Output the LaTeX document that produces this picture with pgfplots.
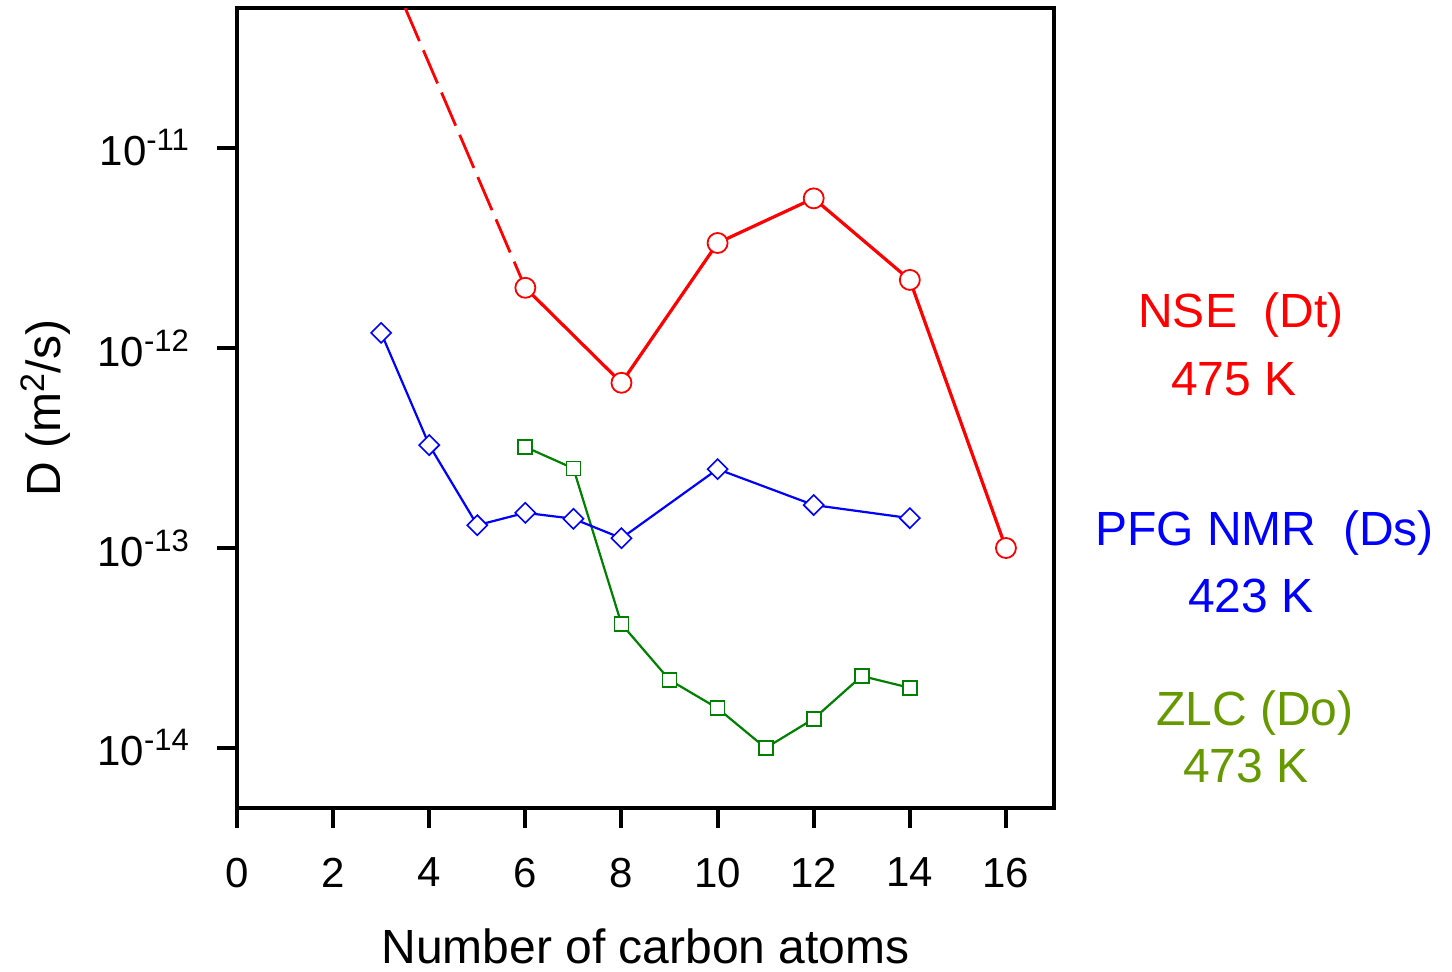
\documentclass[border=0pt]{standalone}
\usepackage{pgfplots}
\pgfplotsset{compat=1.18}
\usepackage{fontspec}
\setmainfont{Liberation Sans}
\definecolor{nsered}{RGB}{255,0,0}
\definecolor{pfgblue}{RGB}{0,0,255}
\definecolor{zlcgreen}{RGB}{0,128,0}
\definecolor{zlctext}{RGB}{102,153,0}
\newcommand{\lbl}{\fontsize{24}{28}\selectfont}
\newcommand{\tck}{\fontsize{21}{25}\selectfont}
\newcommand{\tsup}[1]{\raisebox{7.5pt}{\fontsize{15.5}{18}\selectfont #1}}
\begin{document}
\begin{tikzpicture}
\begin{axis}[
    scale only axis,
    width=408.5pt, height=400pt,
    xmin=0, xmax=17,
    ymode=log, ymin=5.01e-15, ymax=5.01e-11,
    xtick={0,2,...,16},
    ytick={1e-14,1e-13,1e-12,1e-11},
    yticklabels={10\tsup{-14},10\tsup{-13},10\tsup{-12},10\tsup{-11}},
    xminorticks=false, yminorticks=false,
    tick pos=left,
    tick align=outside,
    major tick length=10pt,
    tick style={line width=2pt, black},
    axis line style={line width=2pt},
    ticklabel style={font=\tck},
    xticklabel style={yshift=-11.5pt},
    yticklabel style={xshift=-10.5pt},
    /pgf/number format/assume math mode=true,
]
\addplot[zlcgreen, line width=1.1pt, mark=square*, mark size=3.5pt,
    mark options={solid, fill=white, line width=0.9pt}]
    coordinates {(6,3.2e-13) (7,2.5e-13) (8,4.17e-14) (9,2.19e-14) (10,1.58e-14)
                 (11,1.0e-14) (12,1.4e-14) (13,2.29e-14) (14,2.0e-14)};
\addplot[pfgblue, line width=1.1pt, mark=square*, mark size=3.55pt,
    mark options={solid, rotate=45, fill=white, line width=0.8pt}]
    coordinates {(3,1.19e-12) (4,3.27e-13) (5,1.3e-13) (6,1.5e-13) (7,1.4e-13)
                 (8,1.12e-13) (10,2.48e-13) (12,1.64e-13) (14,1.41e-13)};
\addplot[nsered, line width=1.4pt, dash pattern=on 18pt off 5pt]
    coordinates {(3.5,5.01e-11) (6,2.0e-12)};
\addplot[nsered, line width=1.6pt, mark=*, mark size=5pt,
    mark options={solid, fill=white, line width=0.9pt}]
    coordinates {(6,2.0e-12) (8,6.7e-13) (10,3.35e-12) (12,5.6e-12)
                 (14,2.19e-12) (16,1.0e-13)};
\coordinate (sw) at (rel axis cs:0,0);
\end{axis}
\node[anchor=base, font=\lbl] at ([shift={(204.25pt,-77.5pt)}]sw) {Number of carbon atoms};
\node[anchor=base, rotate=90, font=\lbl] at ([shift={(-88pt,200pt)}]sw) {D (m\raisebox{8pt}{\fontsize{17}{20}\selectfont 2}/s)};
\node[anchor=base, text=nsered, font=\lbl] at ([shift={(502pt,240.5pt)}]sw) {NSE\ \ (Dt)};
\node[anchor=base, text=nsered, font=\lbl] at ([shift={(498.5pt,206.5pt)}]sw) {475 K};
\node[anchor=base, text=pfgblue, font=\lbl] at ([shift={(513.75pt,131.5pt)}]sw) {PFG NMR\ \ (Ds)};
\node[anchor=base, text=pfgblue, font=\lbl] at ([shift={(507pt,98pt)}]sw) {423 K};
\node[anchor=base, text=zlctext, font=\lbl] at ([shift={(509pt,41.5pt)}]sw) {ZLC (Do)};
\node[anchor=base, text=zlctext, font=\lbl] at ([shift={(504.5pt,13pt)}]sw) {473 K};
\pgfresetboundingbox
\path[use as bounding box] ([shift={(-118.5pt,-81.5pt)}]sw) rectangle ([shift={(607.5pt,404pt)}]sw);
\end{tikzpicture}
\end{document}
